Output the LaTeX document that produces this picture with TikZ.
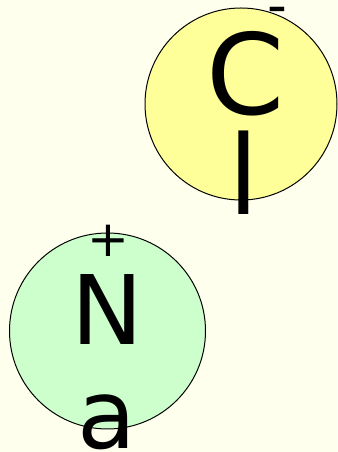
\documentclass[tikz,border=0pt]{standalone}
\usepackage{fontspec}
\setmainfont{DejaVu Sans}
\definecolor{bgc}{HTML}{FFFFEE}
\definecolor{clfill}{HTML}{FFFF99}
\definecolor{nafill}{HTML}{CCFFCC}
\tikzset{
  atom/.style={circle, draw=black, line width=1pt, inner sep=0pt},
  glyph/.style={inner sep=0pt, anchor=base},
}
\begin{document}
\begin{tikzpicture}[x=1pt,y=1pt]
\fill[bgc] (0,0) rectangle (337,452);
\useasboundingbox (0,0) rectangle (337,452);
\node[atom, fill=clfill, minimum size=192pt] (cl) at (241,348) {};
\node[atom, fill=nafill, minimum size=196pt] (na) at (107.5,121) {};
\node[glyph, font=\fontsize{112}{112}\selectfont] (c) at (245.5,337) {C};
\node[glyph, font=\fontsize{110}{110}\selectfont] (l) at (244,237) {l};
\node[glyph, font=\fontsize{55}{55}\selectfont] (minus) at (277.5,427.5) {-};
\node[glyph, font=\fontsize{96}{96}\selectfont] (n) at (107.5,107) {N};
\node[glyph, font=\fontsize{96}{96}\selectfont] (a) at (106.5,4) {a};
\node[glyph, font=\fontsize{50}{50}\selectfont] (plus) at (108,195) {+};
\end{tikzpicture}
\end{document}
